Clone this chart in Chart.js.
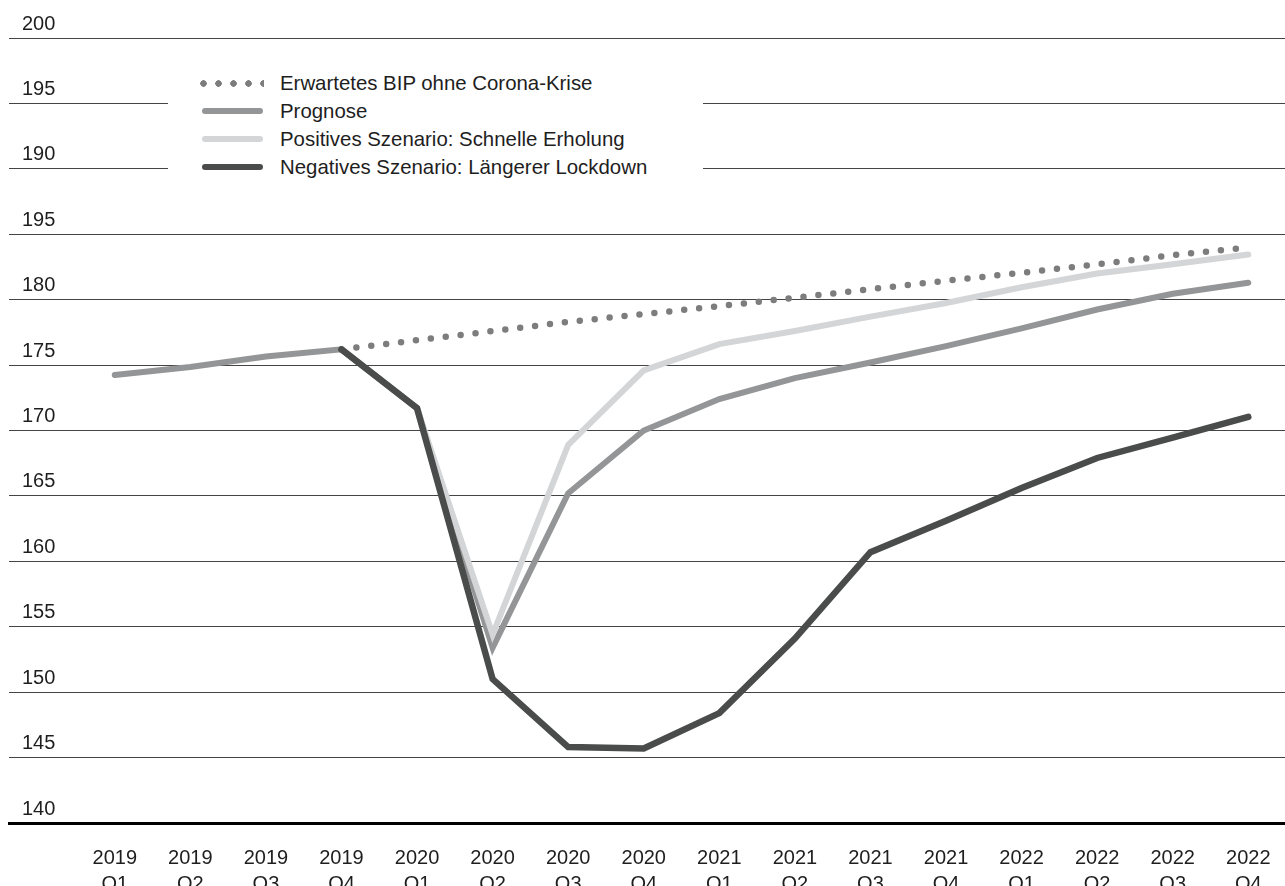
<!DOCTYPE html>
<html lang="de">
<head>
  <meta charset="UTF-8" />
  <title>BIP Szenarien</title>
  <script src="https://cdn.jsdelivr.net/npm/chart.js"></script>
  <style>
    body {
      margin: 0;
      background: #fff;
      font-family: 'Liberation Sans', Arial, sans-serif;
      color: #1e1e1e;
    }

    #wrap {
      position: relative;
      width: 1285px;
      height: 886px;
      overflow: hidden;
    }

    #legend {
      position: absolute;
      left: 168px;
      top: 62px;
      width: 535px;
      height: 126px;
      background: #fff;
      padding-top: 7px;
      box-sizing: border-box;
    }

    .row {
      display: flex;
      align-items: center;
      height: 28px;
      font-size: 20.4px;
    }

    .swatch {
      width: 61px;
      height: 6px;
      border-radius: 3px;
      margin-left: 34px;
      margin-right: 17px;
    }

    .swatch.dots {
      width: 64px;
      height: 7px;
      margin-left: 32px;
      margin-right: 16px;
      border-radius: 0;
    }
  </style>
</head>
<body>

  <div id="wrap">
    <canvas id="bipChart" width="1285" height="886"></canvas>
    <!-- Legend sits inside the plot, on a white box over the grid -->
    <div id="legend"></div>
  </div>

  <script>
    const quarters = [
      '2019 Q1', '2019 Q2', '2019 Q3', '2019 Q4',
      '2020 Q1', '2020 Q2', '2020 Q3', '2020 Q4',
      '2021 Q1', '2021 Q2', '2021 Q3', '2021 Q4',
      '2022 Q1', '2022 Q2', '2022 Q3', '2022 Q4'
    ];

    // tick labels bottom -> top, as printed in the original
    const yTickLabels = ['140', '145', '150', '155', '160', '165', '170', '175', '180', '195', '190', '195', '200'];

    const ohneKrise = [null, null, null, 176.2, 176.9, 177.6, 178.3, 178.9, 179.5, 180.15, 180.8, 181.45, 182.05, 182.7, 183.4, 184.0];
    const prognose  = [174.25, 174.85, 175.65, 176.2, 171.7, 153.4, 165.2, 170.0, 172.4, 174.0, 175.2, 176.45, 177.8, 179.25, 180.45, 181.3];
    const positiv   = [null, null, null, null, 171.7, 154.4, 168.9, 174.6, 176.6, 177.6, 178.7, 179.75, 180.95, 182.0, 182.7, 183.45];
    const negativ   = [null, null, null, 176.2, 171.7, 151.0, 145.8, 145.7, 148.4, 154.1, 160.7, 163.1, 165.6, 167.9, 169.45, 171.05];

    const toPoints = arr => arr.map((y, x) => ({ x, y }));

    Chart.defaults.font.family = "'Liberation Sans', Arial, sans-serif";
    Chart.defaults.color = '#1e1e1e';

    const datasets = [
      {
        label: 'Erwartetes BIP ohne Corona-Krise',
        data: toPoints(ohneKrise),
        borderColor: '#7d7d7d',
        borderWidth: 6.5,
        borderDash: [0, 15],
        order: 1,
        dotted: true
      },
      {
        label: 'Prognose',
        data: toPoints(prognose),
        borderColor: '#939596',
        borderWidth: 6,
        order: 3
      },
      {
        label: 'Positives Szenario: Schnelle Erholung',
        data: toPoints(positiv),
        borderColor: '#d3d5d7',
        borderWidth: 6,
        order: 2
      },
      {
        label: 'Negatives Szenario: Längerer Lockdown',
        data: toPoints(negativ),
        borderColor: '#4a4c4b',
        borderWidth: 6.5,
        order: 0
      }
    ];

    const ctx = document.getElementById('bipChart').getContext('2d');

    const chart = new Chart(ctx, {
      type: 'line',
      data: { datasets },
      options: {
        responsive: false,
        animation: false,
        layout: { padding: { top: 38, right: 0, bottom: 0, left: 0 } },
        elements: {
          line: { tension: 0, fill: false, borderCapStyle: 'round', borderJoinStyle: 'miter' },
          point: { radius: 0, hoverRadius: 0 }
        },
        plugins: {
          legend: { display: false },
          tooltip: { enabled: false }
        },
        scales: {
          x: {
            type: 'linear',
            min: -1.4,
            max: 15.486,
            grid: { display: false },
            border: { color: '#000', width: 3 },
            afterBuildTicks: s => { s.ticks = quarters.map((_, i) => ({ value: i })); },
            afterFit: s => { s.height = 63; s.paddingLeft = 0; s.paddingRight = 0; },
            ticks: {
              autoSkip: false,
              maxRotation: 0,
              padding: 14,
              font: { size: 20, lineHeight: 1.3 },
              callback: v => quarters[v].split(' ')
            }
          },
          y: {
            min: 140,
            max: 200,
            grid: { color: '#444', lineWidth: 1, drawTicks: false },
            border: { display: false },
            afterFit: s => { s.width = 9; },
            ticks: {
              stepSize: 5,
              mirror: true,
              padding: 13,
              labelOffset: -14,
              font: { size: 20 },
              callback: (v, i) => yTickLabels[i]
            }
          }
        }
      }
    });

    // legend built from the datasets
    const legend = document.getElementById('legend');
    legend.innerHTML = chart.data.datasets.map(ds => {
      const style = ds.dotted
        ? `background: radial-gradient(circle at 3.5px 3.5px, ${ds.borderColor} 3px, transparent 3.5px) 0 0 / 15px 7px repeat-x;`
        : `background: ${ds.borderColor};`;
      return `<div class="row"><span class="swatch${ds.dotted ? ' dots' : ''}" style="${style}"></span>${ds.label}</div>`;
    }).join('');
  </script>
</body>
</html>
